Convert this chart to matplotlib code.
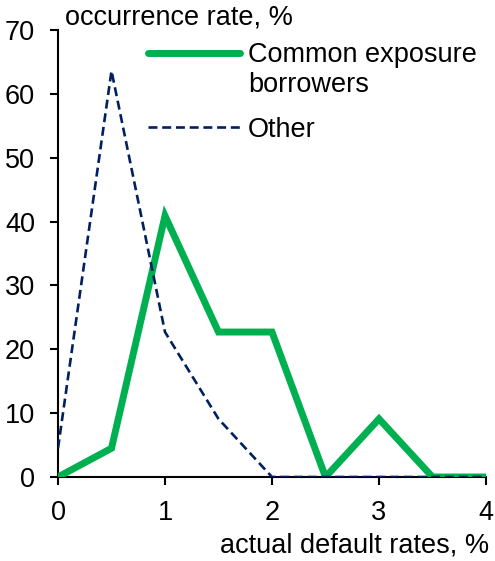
import matplotlib
matplotlib.use("Agg")
import matplotlib.pyplot as plt

plt.rcParams['font.family'] = ['Liberation Sans', 'DejaVu Sans']

default_rate = [0, 0.5, 1, 1.5, 2, 2.5, 3, 3.5, 4]
common_exposure = [0, 4.5, 40.9, 22.7, 22.7, 0, 9.1, 0, 0]
other = [4.5, 63.6, 22.7, 9.1, 0, 0, 0, 0, 0]
x_ticks = [0, 1, 2, 3, 4]
y_ticks = [0, 10, 20, 30, 40, 50, 60, 70]

FS = 19.5
W, H = 495, 561

fig = plt.figure(figsize=(W / 100, H / 100), dpi=100)
ax = fig.add_axes([58 / W, 1 - 477 / H, (486 - 58) / W, (477 - 30) / H])

ax.plot(default_rate, common_exposure, color='#00B050', lw=5,
        solid_joinstyle='miter', solid_capstyle='round',
        label='Common exposure', zorder=3)
ax.plot(default_rate, other, color='#002060', lw=1.9, ls=(0, (3.4, 1.8)),
        label='Other', zorder=4)

ax.set_xlim(0, 4)
ax.set_ylim(0, 70)
ax.set_xticks(x_ticks)
ax.set_yticks(y_ticks)
for s in ['top', 'right']:
    ax.spines[s].set_visible(False)
for s in ['left', 'bottom']:
    ax.spines[s].set_linewidth(1.5)
ax.tick_params(axis='both', labelsize=FS, width=1.5, length=5.5, direction='out')
ax.tick_params(axis='y', pad=11)
ax.tick_params(axis='x', pad=11)

fig.text(65 / W, 1 - 25 / H, 'occurrence rate, %', fontsize=FS,
         va='baseline', ha='left')
fig.text(489 / W, 1 - 552 / H, 'actual default rates, %', fontsize=FS,
         va='baseline', ha='right')

# legend: handle sits beside the first line of the green label
leg = fig.legend(loc='upper left', bbox_to_anchor=(148 / W, 1 - 42 / H),
                 frameon=False, fontsize=FS, handlelength=3.4,
                 handletextpad=0.3, labelspacing=1.8, borderpad=0,
                 borderaxespad=0)
fig.text(248 / W, 1 - 92 / H, 'borrowers', fontsize=FS,
         va='baseline', ha='left')

fig.savefig('out.png', dpi=100)
